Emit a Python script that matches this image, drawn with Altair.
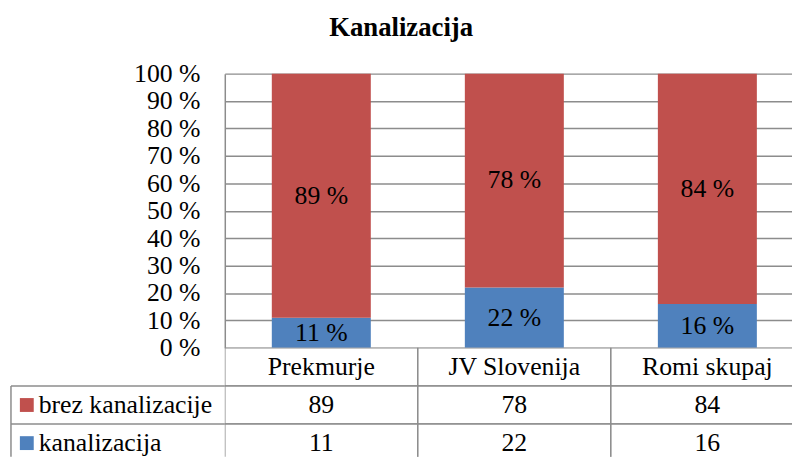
import altair as alt
import pandas as pd

categories = ["Prekmurje", "JV Slovenija", "Romi skupaj"]
series = ["brez kanalizacije", "kanalizacija"]
brez = [89, 78, 84]
kanal = [11, 22, 16]
colors = ["#C0504D", "#4F81BD"]
y_ticks = list(range(0, 101, 10))

rows = []
for i, c in enumerate(categories):
    rows.append({"category": c, "series": "kanalizacija", "value": kanal[i], "order": 0})
    rows.append({"category": c, "series": "brez kanalizacije", "value": brez[i], "order": 1})
df = pd.DataFrame(rows)

rows_order = ["header"] + series
table_rows = [{"category": c, "row": "header", "text": c} for c in categories]
for i, c in enumerate(categories):
    table_rows.append({"category": c, "row": series[0], "text": str(brez[i])})
    table_rows.append({"category": c, "row": series[1], "text": str(kanal[i])})
tdf = pd.DataFrame(table_rows)
sdf = pd.DataFrame({"row": series})
first_df = pd.DataFrame({"row": [series[0]]})

FONT = "Liberation Serif"
GRID = "#8c8c8c"
FS = 26
W = 573

color_scale = alt.Scale(domain=series, range=colors)

base = alt.Chart(df).transform_stack(
    stack="value", groupby=["category"], sort=[alt.SortField("order")], as_=["v0", "v1"]
).transform_calculate(
    mid="(datum.v0 + datum.v1) / 2", lab="datum.value + ' %'"
)

y_axis = alt.Axis(
    title=None, values=y_ticks, labelExpr="datum.value + ' %'", labelFont=FONT,
    labelFontSize=FS, labelColor="black", labelPadding=25, ticks=False,
    domainColor=GRID, domainWidth=1.5, gridColor=GRID, gridWidth=1.5,
    labelOverlap=False, labelFlush=False,
)
y_scale = alt.Scale(domain=[0, 100], nice=False)

x_bar = alt.X("category:N", sort=categories,
              scale=alt.Scale(range=[0, 585], paddingInner=0, paddingOuter=0), axis=None)

bars = base.mark_bar(size=100).encode(
    x=x_bar, y=alt.Y("v0:Q", scale=y_scale, axis=y_axis), y2="v1:Q",
    color=alt.Color("series:N", scale=color_scale, legend=None),
)
bar_text = base.mark_text(font=FONT, fontSize=FS, color="black").encode(
    x=alt.X("category:N", sort=categories), y=alt.Y("mid:Q", scale=y_scale, axis=y_axis),
    text="lab:N"
)
bar_chart = alt.layer(bars, bar_text).properties(width=W, height=277)

x_tab = alt.X("category:N", sort=categories,
              scale=alt.Scale(range=[0, 585], paddingInner=0, paddingOuter=0), axis=None)
y_tab = alt.Y("row:N", sort=rows_order,
              scale=alt.Scale(range=[0, 115.5], paddingInner=0, paddingOuter=0), axis=None)

cells = alt.Chart(tdf).mark_rect(fill="white", stroke=GRID, strokeWidth=1.5, clip=True).encode(
    x=x_tab, y=y_tab
)
cell_text = alt.Chart(tdf).mark_text(font=FONT, fontSize=FS, color="black").encode(
    x=alt.X("category:N", sort=categories), y=alt.Y("row:N", sort=rows_order), text="text:N"
)
label_lines = alt.Chart(sdf).mark_rule(color=GRID, strokeWidth=1.5).encode(
    x=alt.value(-216), x2=alt.value(0), y=alt.Y("row:N", sort=rows_order, bandPosition=0)
)
label_left = alt.Chart(first_df).mark_rule(color=GRID, strokeWidth=1.5).encode(
    x=alt.value(-216), y=alt.Y("row:N", sort=rows_order, bandPosition=0), y2=alt.value(110)
)
squares = alt.Chart(sdf).mark_square(size=196, opacity=1).encode(
    x=alt.value(-200), y=alt.Y("row:N", sort=rows_order),
    color=alt.Color("row:N", scale=color_scale, legend=None),
)
labels = alt.Chart(sdf).mark_text(align="left", font=FONT, fontSize=FS, color="black").encode(
    x=alt.value(-188), y=alt.Y("row:N", sort=rows_order), text="row:N"
)
table_chart = alt.layer(cells, cell_text, label_lines, label_left, squares, labels).properties(
    width=W, height=110
)

chart = alt.vconcat(bar_chart, table_chart, spacing=0, bounds="flush").resolve_scale(
    x="independent", y="independent"
).properties(
    title=alt.TitleParams("Kanalizacija", font=FONT, fontSize=27, fontWeight="bold",
                          anchor="middle", offset=19, dx=0, color="black"),
    padding={"left": 2, "top": 4, "right": 0, "bottom": 0},
).configure(font=FONT).configure_view(stroke=None)

chart.save("out.html", embed_options={"renderer": "svg", "actions": False})
